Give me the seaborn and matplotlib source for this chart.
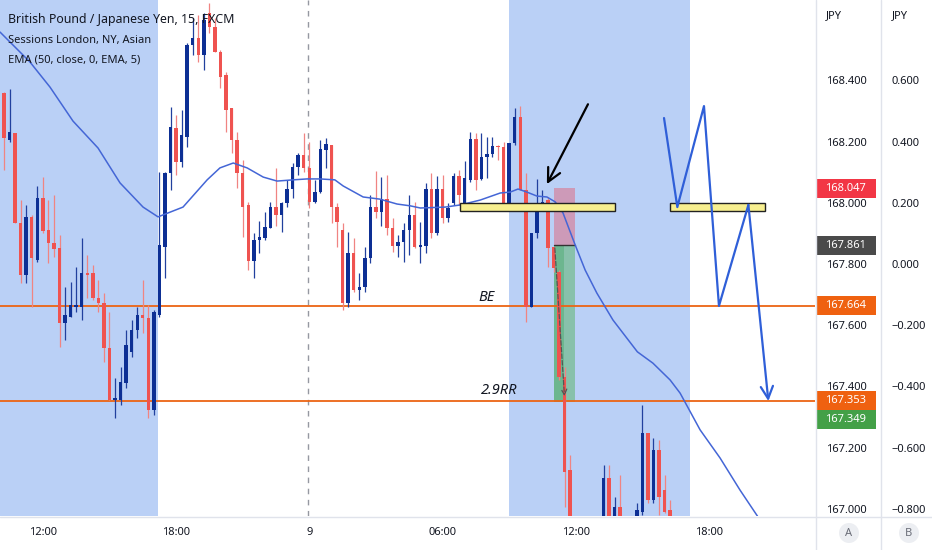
import numpy as np
import matplotlib
matplotlib.use('Agg')
import matplotlib.pyplot as plt
from matplotlib.patches import Rectangle, Circle
from matplotlib.lines import Line2D
from matplotlib.transforms import blended_transform_factory, IdentityTransform
import seaborn as sns

# GBP/JPY 15 min candles, bar 0 = 10:15 on the 8th (nan = bar below the visible range)
nan = np.nan
opens = [168.359, 168.205, 168.228, 167.934, 167.764, 167.954, 167.813, 168.016, 167.911, 167.869,
         167.852, 167.607, 167.627, 167.659, 167.659, 167.770, 167.770, 167.689, 167.672, 167.525,
         167.356, 167.356, 167.411, 167.512, 167.584, 167.633, 167.623, 167.323, 167.633, 167.856,
         168.097, 168.244, 168.133, 168.215, 168.516, 168.538, 168.483, 168.620, 168.574, 168.493,
         168.418, 168.310, 168.205, 168.097, 167.993, 167.810, 167.878, 167.885, 167.918, 167.986,
         167.960, 167.999, 168.045, 168.117, 168.156, 168.114, 168.003, 168.035, 168.173, 168.189,
         167.986, 167.911, 167.672, 167.836, 167.715, 167.725, 167.820, 167.986, 167.970, 168.012,
         167.918, 167.859, 167.872, 167.911, 167.960, 167.856, 167.859, 168.045, 167.901, 168.045,
         167.950, 167.999, 168.088, 167.999, 168.074, 168.208, 168.078, 168.150, 168.159, 168.186,
         168.182, 167.973, 168.195, 168.280, 168.042, 167.659, 167.901, 167.993, 168.009, 167.856,
         167.774, 167.431, 167.127, nan, nan, nan, nan, nan, 166.931, 167.100,
         166.931, 167.006, nan, nan, 166.931, 166.989, 167.248, 167.029, 167.192, 167.061,
         166.996]
highs = [168.362, 168.372, 168.228, 168.009, 167.993, 167.960, 168.055, 168.084, 168.009, 168.025,
         167.895, 167.725, 167.741, 167.790, 167.885, 167.829, 167.797, 167.748, 167.705, 167.643,
         167.427, 167.463, 167.584, 167.617, 167.659, 167.748, 167.666, 167.650, 168.101, 168.101,
         168.313, 168.287, 168.303, 168.522, 168.604, 168.614, 168.620, 168.653, 168.604, 168.499,
         168.427, 168.310, 168.231, 168.140, 168.003, 167.901, 167.940, 167.970, 168.003, 168.114,
         168.003, 168.074, 168.130, 168.163, 168.228, 168.199, 168.074, 168.205, 168.212, 168.189,
         167.999, 167.934, 167.905, 167.885, 167.770, 167.856, 168.025, 168.104, 168.084, 168.091,
         167.950, 167.895, 167.934, 168.025, 168.003, 167.937, 168.065, 168.097, 168.088, 168.091,
         167.999, 168.097, 168.107, 168.137, 168.231, 168.228, 168.228, 168.215, 168.215, 168.189,
         168.199, 168.195, 168.310, 168.316, 168.097, 167.901, 168.078, 168.042, 168.019, 167.856,
         167.780, 167.463, 167.176, nan, nan, nan, nan, nan, 167.143, 167.143,
         167.038, 167.110, nan, nan, 167.019, 167.339, 167.248, 167.231, 167.225, 167.110,
         167.029]
lows = [168.107, 168.199, 167.934, 167.738, 167.738, 167.659, 167.806, 167.901, 167.803, 167.823,
        167.529, 167.552, 167.627, 167.643, 167.617, 167.689, 167.682, 167.643, 167.480, 167.356,
        167.297, 167.339, 167.395, 167.496, 167.558, 167.574, 167.297, 167.307, 167.627, 167.754,
        168.042, 168.091, 168.117, 168.182, 168.483, 168.460, 168.434, 168.555, 168.493, 168.375,
        168.231, 168.163, 168.048, 167.888, 167.780, 167.754, 167.836, 167.878, 167.918, 167.924,
        167.905, 167.986, 168.016, 168.091, 168.101, 167.983, 167.999, 168.032, 168.114, 167.934,
        167.856, 167.650, 167.659, 167.708, 167.682, 167.708, 167.803, 167.950, 167.924, 167.895,
        167.839, 167.823, 167.806, 167.829, 167.852, 167.803, 167.836, 167.885, 167.895, 167.934,
        167.937, 167.993, 167.993, 167.993, 168.068, 168.042, 168.074, 168.081, 168.150, 168.140,
        167.973, 167.973, 168.189, 168.042, 167.610, 167.659, 167.885, 167.986, 167.790, 167.774,
        167.421, 167.006, 166.898, nan, nan, nan, nan, nan, 166.898, 166.898,
        166.898, 166.898, nan, nan, 166.898, 166.980, 167.019, 167.019, 166.980, 166.986,
        166.898]
closes = [168.212, 168.231, 167.934, 167.764, 167.954, 167.820, 168.016, 167.908, 167.869, 167.849,
          167.607, 167.633, 167.666, 167.666, 167.770, 167.764, 167.689, 167.672, 167.525, 167.356,
          167.362, 167.414, 167.535, 167.584, 167.633, 167.623, 167.323, 167.643, 167.862, 168.097,
          168.248, 168.133, 168.221, 168.516, 168.538, 168.483, 168.597, 168.574, 168.493, 168.411,
          168.303, 168.205, 168.097, 167.986, 167.810, 167.878, 167.888, 167.921, 167.986, 167.960,
          167.999, 168.045, 168.117, 168.156, 168.114, 168.003, 168.035, 168.176, 168.192, 167.986,
          167.937, 167.672, 167.836, 167.715, 167.725, 167.820, 167.986, 167.970, 168.012, 167.918,
          167.859, 167.872, 167.911, 167.960, 167.856, 167.862, 168.045, 167.901, 168.045, 167.950,
          167.983, 168.088, 168.025, 168.081, 168.208, 168.074, 168.150, 168.159, 168.186, 168.182,
          167.973, 168.195, 168.280, 168.042, 167.659, 167.901, 167.999, 168.003, 167.852, 167.787,
          167.431, 167.120, 166.931, nan, nan, nan, nan, nan, 167.100, 166.931,
          167.006, 166.931, nan, nan, 166.996, 167.248, 167.029, 167.192, 167.038, 166.989,
          166.931]

# EMA(50)
ema_idx = [-0.72, 4.68, 8.29, 12.43, 16.94, 20.9, 25.05, 27.75, 32.25, 36.6, 38.9, 41.3, 43.8, 46.7,
           49.2, 52.1, 54.6, 56.9, 59.6, 61.1, 64.7, 67.7, 70.8, 73.2, 75.0, 79.5, 82.2, 85.8, 89.4,
           91.2, 92.6, 94.2, 96.0, 97.8, 99.3, 100.7, 102.9, 104.7, 106.8, 109.7, 114.1, 116.9, 120.0,
           121.8, 125.4, 129.0, 132.6, 135.7, 137.1]
ema_val = [168.558, 168.460, 168.378, 168.267, 168.179, 168.065, 167.986, 167.954, 167.986, 168.075,
           168.114, 168.130, 168.114, 168.084, 168.071, 168.075, 168.078, 168.078, 168.075, 168.055,
           168.019, 168.012, 167.996, 167.990, 167.983, 167.986, 167.993, 168.009, 168.032, 168.035,
           168.045, 168.035, 168.022, 168.019, 168.003, 167.967, 167.862, 167.780, 167.705, 167.617,
           167.513, 167.476, 167.421, 167.378, 167.258, 167.166, 167.061, 166.977, 166.930]

# x axis
tick_idx = [7, 31, 55, 79, 103, 127]
tick_labels = ['12:00', '18:00', '9', '06:00', '12:00', '18:00']
day_break = 54.8
sessions = [(-1.0, 27.7), (90.9, 123.6)]

# price scales
a_ticks = [167.0, 167.2, 167.4, 167.6, 167.8, 168.0, 168.2, 168.4]
b_ticks = [-0.8, -0.6, -0.4, -0.2, 0.0, 0.2, 0.4, 0.6]
b_zero = 167.8
y_lo, y_hi = 166.9765, 168.6627
x_lo, x_hi = -0.72, 146.1

# drawings
levels = [167.664, 167.353]
level_texts = ['BE', '2.9RR']
level_text_x = [87.0, 89.2]
level_text_y = [167.689, 167.388]
zones = [(82.1, 110.1), (120.0, 137.1)]
zone_top, zone_bottom = 167.999, 167.973
entry, stop, target = 167.861, 168.047, 167.349
pos_x0, pos_x1, pos_hit = 99.1, 102.9, 100.9
zig_x = [118.9, 121.3, 126.1, 128.8, 134.1, 137.7]
zig_y = [168.277, 167.986, 168.316, 167.663, 167.993, 167.352]
arrow_tail = (105.2, 168.322)
arrow_head = (97.8, 168.061)

# price tags on the axis: value, colour
tags = [(168.047, '#f23645'), (167.861, '#4a4a4a'), (167.664, '#ef6110'),
        (167.353, '#ef6110'), (167.349, '#43a047')]

sns.set_style('white')
plt.rcParams['font.family'] = ['Noto Sans', 'DejaVu Sans']
text_col = '#131722'
red, navy = '#ef5350', '#0d2f94'
sess_col = '#bad0f6'

fig = plt.figure(figsize=(9.32, 5.5), dpi=100)
ax = fig.add_axes([0, 34 / 550, 815 / 932, 516 / 550])
ax2 = ax.twinx()
ax.set_xlim(x_lo, x_hi)
ax.set_ylim(y_lo, y_hi)

for a, b in sessions:
    ax.axvspan(a, b, color=sess_col, lw=0, zorder=0)
ax.axvline(day_break, color='#9598a1', lw=1, ls=(0, (4, 4)), zorder=0.5)

# position tool boxes
ax.add_patch(Rectangle((pos_x0, entry), pos_x1 - pos_x0, stop - entry, fc='#f23645', alpha=0.35, lw=0, zorder=1))
ax.add_patch(Rectangle((pos_x0, target), pos_x1 - pos_x0, entry - target, fc='#4caf50', alpha=0.45, lw=0, zorder=1))
ax.add_patch(Rectangle((pos_x0, target), pos_hit - pos_x0, entry - target, fc='#2e9e50', alpha=0.3, lw=0, zorder=1))
ax.plot([pos_x0, pos_x1], [entry, entry], color='#333333', lw=1, zorder=1.2)

for lv in levels:
    ax.axhline(lv, color='#ec6414', lw=1.3, zorder=1.5)

# candles
idx = np.arange(len(opens))
o, h, l, c = (np.array(v, dtype=float) for v in (opens, highs, lows, closes))
up = c >= o
body = np.maximum(np.abs(c - o), 0.004)
for mask, col, wcol in [(up, navy, '#21409e'), (~up, red, '#f08482')]:
    ax.vlines(idx[mask], l[mask], h[mask], color=wcol, lw=0.9, zorder=2)
    ax.bar(idx[mask], body[mask], bottom=np.minimum(o, c)[mask], width=0.62, color=col, lw=0, zorder=2.5)

sns.lineplot(x=ema_idx, y=ema_val, ax=ax, color='#4466d6', lw=1.1, estimator=None, sort=False, zorder=3)

# dashed path of the trade
ax.annotate('', xy=(pos_x0 + 1.9, target + 0.01), xytext=(pos_x0 + 0.1, entry),
            arrowprops=dict(arrowstyle='->', color='#555555', lw=0.9, ls='--'), zorder=3)

for a, b in zones:
    ax.add_patch(Rectangle((a, zone_bottom), b - a, zone_top - zone_bottom, fc='#f7ef8f', ec='#222222', lw=1, zorder=4))

sns.lineplot(x=zig_x[:-1], y=zig_y[:-1], ax=ax, color='#2f5fd8', lw=1.6, estimator=None, sort=False, zorder=5)
ax.annotate('', xy=(zig_x[-1], zig_y[-1]), xytext=(zig_x[-2], zig_y[-2]),
            arrowprops=dict(arrowstyle='->', color='#2f5fd8', lw=1.6, mutation_scale=22, shrinkA=0, shrinkB=0), zorder=5)
ax.annotate('', xy=arrow_head, xytext=arrow_tail,
            arrowprops=dict(arrowstyle='->', color='black', lw=1.6, mutation_scale=24, shrinkA=0, shrinkB=0), zorder=5)

for t, tx, ty in zip(level_texts, level_text_x, level_text_y):
    ax.text(tx, ty, t, fontsize=10.5, style='italic', color=text_col, ha='center', va='center', zorder=6)

# axes styling (twinx moved the ticks to the left, put them back on the right)
for s in ax.spines.values():
    s.set_visible(False)
ax.set_xticks(tick_idx)
ax.set_xticklabels(tick_labels)
ax.yaxis.tick_right()
ax.set_yticks(a_ticks)
ax.set_yticklabels([f'{v:.3f}' for v in a_ticks])
ax.tick_params(axis='x', length=0, pad=8, labelsize=8, labelcolor=text_col)
ax.tick_params(axis='y', which='both', left=False, labelleft=False, right=False, labelright=True,
               length=0, pad=8, labelsize=8, labelcolor=text_col)
ax.grid(False)

ax2.set_ylim(y_lo - b_zero, y_hi - b_zero)
ax2.set_yticks(b_ticks)
ax2.set_yticklabels([f'{v:.3f}'.replace('-', '\u2212') for v in b_ticks])
ax2.tick_params(axis='y', length=0, pad=55, labelsize=8, labelcolor=text_col)
for s in ax2.spines.values():
    s.set_visible(False)

# price tags
tr = blended_transform_factory(ax.transAxes, ax.transData)
tag_h = 19 / 306
prev = None
for val, col in tags:
    yc = val
    if prev is not None and abs(prev - yc) < tag_h:
        yc = prev - tag_h
    prev = yc
    ax.add_patch(Rectangle((1 + 1 / 815, yc - tag_h / 2), 60 / 815, tag_h, transform=tr,
                           fc=col, lw=0, clip_on=False, zorder=7))
    ax.text(1 + 10 / 815, yc, f'{val:.3f}', transform=tr, color='white', fontsize=8, fontweight='bold',
            va='center', ha='left', clip_on=False, zorder=8)

# frame lines and header texts
for x in (815.5, 881):
    fig.add_artist(Line2D([x / 932, x / 932], [0, 1], color='#e0e3eb', lw=1))
fig.add_artist(Line2D([0, 1], [33.5 / 550, 33.5 / 550], color='#e0e3eb', lw=1))
fig.text(826 / 932, 1 - 16 / 550, 'JPY', fontsize=8, color=text_col, va='center')
fig.text(892 / 932, 1 - 16 / 550, 'JPY', fontsize=8, color=text_col, va='center')
for cx, lab in [(849, 'A'), (909, 'B')]:
    fig.add_artist(Circle((cx, 17), 10, transform=IdentityTransform(), fc='#eceef2', ec='none'))
    fig.text(cx / 932, 17 / 550, lab, fontsize=8, color='#6a6d78', ha='center', va='center')

fig.text(8 / 932, 1 - 20 / 550, 'British Pound / Japanese Yen, 15, FXCM', fontsize=8.9,
         fontweight='bold', color=text_col, va='center')
fig.text(8 / 932, 1 - 40 / 550, 'Sessions London, NY, Asian', fontsize=8, color=text_col, va='center')
fig.text(8 / 932, 1 - 60 / 550, 'EMA (50, close, 0, EMA, 5)', fontsize=8, color=text_col, va='center')

fig.savefig('out.png', dpi=100)
